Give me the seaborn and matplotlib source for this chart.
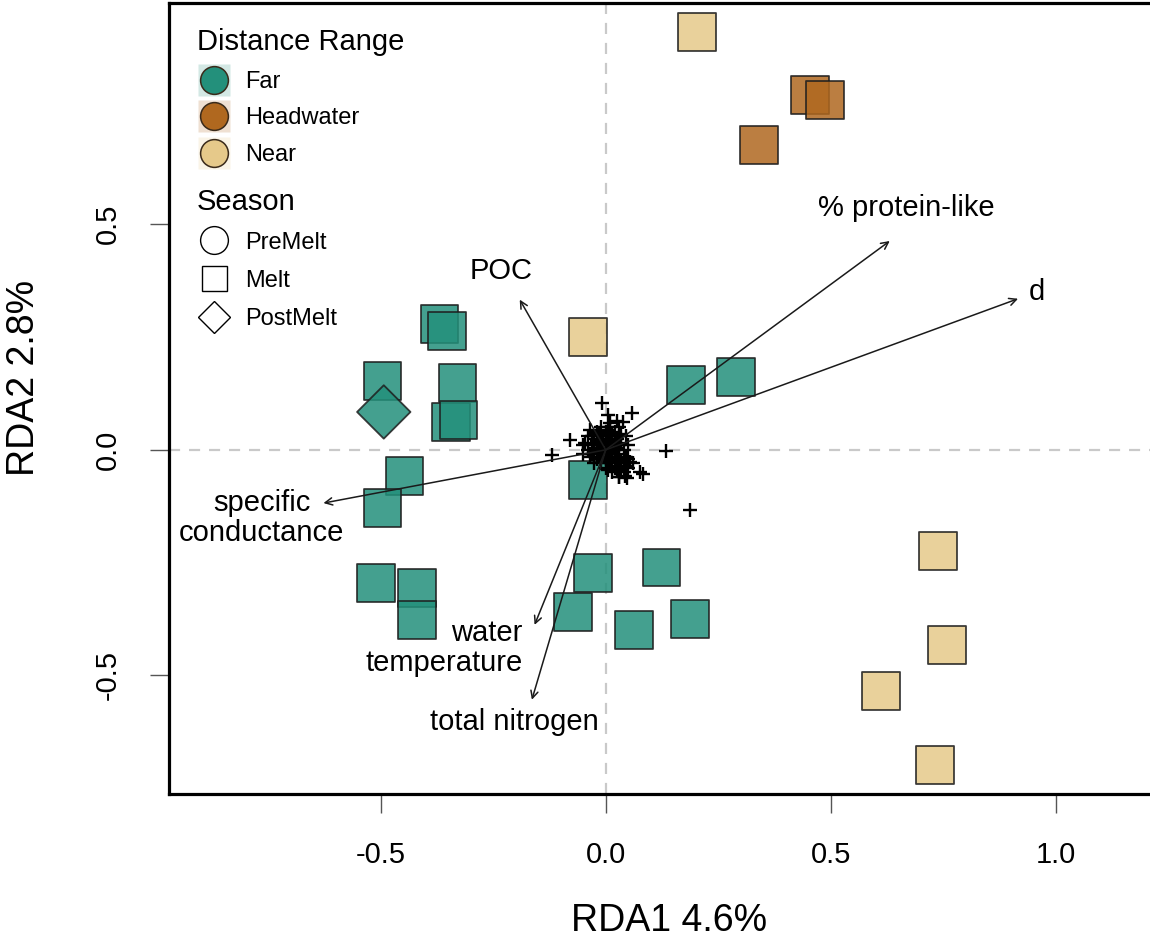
import numpy as np
import pandas as pd
import matplotlib
matplotlib.use("Agg")
import matplotlib.pyplot as plt
from matplotlib.lines import Line2D
from matplotlib.legend_handler import HandlerTuple
import seaborn as sns

# ---------------- data ----------------
site_x = [-0.369, -0.353, -0.496, -0.329, -0.344, -0.327, -0.447, -0.496, -0.040,
          -0.511, -0.420, -0.420, -0.029, -0.073, 0.062, 0.124, 0.187, 0.178, 0.289,
          -0.493,
          0.202, -0.040, 0.738, 0.758, 0.611, 0.731,
          0.453, 0.487, 0.340]
site_y = [0.279, 0.264, 0.153, 0.149, 0.062, 0.067, -0.058, -0.129, -0.067,
          -0.295, -0.306, -0.377, -0.273, -0.359, -0.399, -0.261, -0.375, 0.144, 0.162,
          0.084,
          0.927, 0.251, -0.224, -0.432, -0.534, -0.698,
          0.787, 0.776, 0.676]
site_dist = ["Far"] * 20 + ["Near"] * 6 + ["Headwater"] * 3
site_season = ["Melt"] * 19 + ["PostMelt"] + ["Melt"] * 9

species_x = [0.00, 0.01, -0.01, 0.02, -0.02, 0.00, 0.00, 0.01, -0.01, 0.02, -0.02, 0.02,
             -0.02, 0.03, -0.03, 0.03, -0.03, 0.01, -0.01, 0.01, -0.01, 0.04, -0.04, 0.00,
             0.00, 0.03, -0.03, 0.03, 0.04, 0.02, -0.02, 0.02, 0.04, 0.05, -0.05, -0.04,
             0.01, -0.01, 0.03, 0.05, 0.03, 0.05, -0.05, 0.01, 0.06, 0.015, -0.025, 0.045,
             -0.035, 0.025,
             0.005, -0.005, 0.005, -0.005, 0.015, -0.015, 0.015, -0.015, 0.005, -0.005,
             0.005, -0.005, 0.015, -0.015, 0.015, -0.015, 0.025, -0.025, 0.025, -0.025,
             0.005, -0.005, 0.005, 0.015, 0.025, -0.025, 0.025, 0.035, 0.035, -0.035,
             0.015, -0.015, 0.005, 0.025, 0.035, 0.045, -0.045, 0.005, 0.035, 0.045,
             -0.009, 0.058, 0.038, 0.004, -0.080, -0.120, 0.133, 0.187, 0.082, 0.047,
             0.029, 0.053, 0.076, 0.042]
species_y = [0.00, 0.01, 0.01, 0.00, 0.00, 0.02, -0.02, -0.01, -0.01, 0.02, 0.02, -0.02,
             -0.02, 0.01, 0.01, -0.01, -0.01, 0.03, 0.03, -0.03, -0.03, 0.00, 0.00, 0.04,
             -0.04, 0.03, 0.03, -0.03, -0.03, 0.04, 0.04, -0.04, -0.05, -0.02, 0.01, 0.03,
             0.05, 0.05, 0.05, -0.04, -0.06, 0.01, -0.01, 0.06, -0.03, -0.05, -0.03, 0.03,
             0.045, 0.065,
             0.005, 0.005, -0.005, -0.005, 0.005, 0.005, -0.005, -0.005, 0.015, 0.015,
             -0.015, -0.015, 0.015, 0.015, -0.015, -0.015, 0.005, 0.005, -0.015, -0.005,
             0.025, 0.025, -0.025, -0.025, 0.025, 0.025, -0.035, -0.025, 0.015, -0.015,
             0.035, 0.035, -0.045, -0.045, -0.045, -0.015, 0.015, 0.045, 0.035, -0.035,
             0.104, 0.082, 0.062, 0.078, 0.022, -0.011, -0.002, -0.133, -0.053, -0.062,
             -0.060, -0.027, -0.049, -0.058]

vec_names = ["POC", "% protein-like", "d", "specific\nconductance",
             "water\ntemperature", "total nitrogen"]
vec_x = [-0.191, 0.631, 0.916, -0.627, -0.158, -0.164]
vec_y = [0.333, 0.463, 0.335, -0.118, -0.388, -0.554]
lab_x = [-0.233, 0.667, 0.958, -0.764, -0.184, -0.202]
lab_y = [0.397, 0.537, 0.350, -0.151, -0.439, -0.603]
lab_ha = ["center", "center", "center", "center", "right", "center"]

dist_levels = ["Far", "Headwater", "Near"]
dist_colors = ["#23907b", "#b0681f", "#e6c98a"]
season_levels = ["PreMelt", "Melt", "PostMelt"]
season_markers = ["o", "s", "D"]

x_ticks = [-0.5, 0.0, 0.5, 1.0]
y_ticks = [-0.5, 0.0, 0.5]

sites = pd.DataFrame({"RDA1": site_x, "RDA2": site_y,
                      "Distance Range": site_dist, "Season": site_season})
species = pd.DataFrame({"RDA1": species_x, "RDA2": species_y})

# ---------------- style ----------------
sns.set_style("white")
plt.rcParams["font.family"] = ["Liberation Sans", "DejaVu Sans"]
plt.rcParams["text.color"] = "black"
plt.rcParams["axes.labelcolor"] = "black"
plt.rcParams["xtick.color"] = "black"
plt.rcParams["ytick.color"] = "black"

fig = plt.figure(figsize=(11.5, 9.38), dpi=100)
ax = fig.add_axes([0.147, 0.1535, 0.869, 0.843])
ax.set_xlim(-0.97, 1.25)
ax.set_ylim(-0.763, 0.990)

ax.axhline(0, color="#c9c9c9", lw=1.6, ls=(0, (5, 4)), zorder=0)
ax.axvline(0, color="#c9c9c9", lw=1.6, ls=(0, (5, 4)), zorder=0)

pal = dict(zip(dist_levels, dist_colors))
mk = dict(zip(season_levels, season_markers))
sns.scatterplot(data=sites, x="RDA1", y="RDA2", hue="Distance Range",
                style="Season", palette=pal,
                markers={k: mk[k] for k in ["Melt", "PostMelt"]},
                s=740, alpha=0.85, edgecolor="#1e1e1e", linewidth=1.3,
                legend=False, ax=ax, zorder=2)

sns.scatterplot(data=species, x="RDA1", y="RDA2", marker="+", color="black",
                s=100, linewidth=1.7, legend=False, ax=ax, zorder=3)

for vx, vy, name, lx, ly, ha in zip(vec_x, vec_y, vec_names, lab_x, lab_y, lab_ha):
    ax.annotate("", xy=(vx, vy), xytext=(0, 0),
                arrowprops=dict(arrowstyle="->", color="#1a1a1a", lw=1.1,
                                mutation_scale=13, shrinkA=0, shrinkB=0),
                zorder=4)
    ax.text(lx, ly, name, ha=ha, va="center", fontsize=21, color="black",
            linespacing=1.1, zorder=5)

for sp in ax.spines.values():
    sp.set_linewidth(2.3)
    sp.set_color("black")

ax.set_xticks(x_ticks)
ax.set_yticks(y_ticks)
ax.set_xticklabels([f"{t:.1f}" for t in x_ticks])
ax.set_yticklabels([f"{t:.1f}" for t in y_ticks], rotation=90, va="center")
ax.tick_params(axis="both", direction="out", length=14, width=1.0, color="#555555",
               labelcolor="black", labelsize=21, pad=20, bottom=True, left=True)
ax.set_xlabel("RDA1 4.6%", fontsize=27, labelpad=24)
ax.set_ylabel("RDA2 2.8%", fontsize=27)
ax.yaxis.set_label_coords(-0.127, 0.526)

# ---------------- legends ----------------
h1 = []
for c in dist_colors:
    bg = Line2D([], [], marker="s", ls="", markersize=23, markerfacecolor=c,
                markeredgecolor="none", alpha=0.2)
    fg = Line2D([], [], marker="o", ls="", markersize=20, markerfacecolor=c,
                markeredgecolor="#3a2a1a", markeredgewidth=1.1)
    h1.append((bg, fg))
leg1 = fig.legend(h1, dist_levels, title="Distance Range", loc="upper left",
                  bbox_to_anchor=(0.171, 0.970), frameon=False, fontsize=17,
                  title_fontsize=21, alignment="left", handlelength=1.5,
                  handletextpad=0.55, labelspacing=0.62, borderpad=0, borderaxespad=0,
                  handler_map={tuple: HandlerTuple(ndivide=1, pad=0)})

sizes = {"o": 20, "s": 18, "D": 16}
h2 = [Line2D([], [], marker=m, ls="", markersize=sizes[m], markerfacecolor="white",
             markeredgecolor="black", markeredgewidth=1.0) for m in season_markers]
leg2 = fig.legend(h2, season_levels, title="Season", loc="upper left",
                  bbox_to_anchor=(0.171, 0.800), frameon=False, fontsize=17,
                  title_fontsize=21, alignment="left", handlelength=1.5,
                  handletextpad=0.55, labelspacing=0.68, borderpad=0, borderaxespad=0)

fig.savefig("out.png", dpi=100)
